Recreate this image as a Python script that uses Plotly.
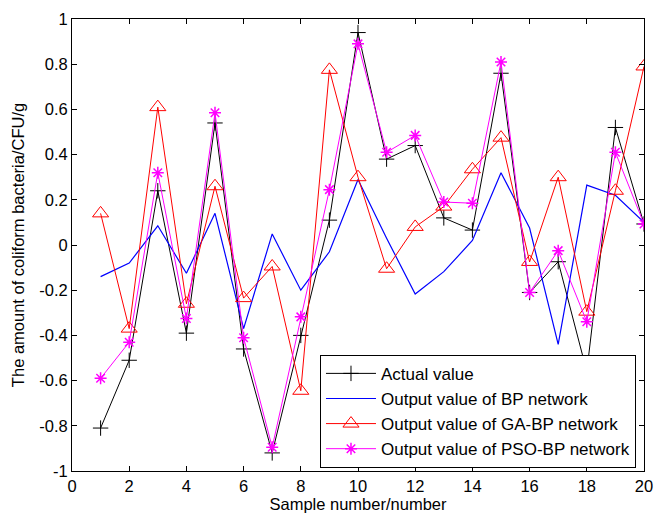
import plotly.graph_objects as go

samples = list(range(1, 21))
actual = [-0.81, -0.51, 0.24, -0.39, 0.54, -0.46, -0.92, -0.40, 0.11, 0.94,
          0.38, 0.44, 0.12, 0.066, 0.76, -0.21, -0.074, -0.56, 0.52, 0.093]
bp = [-0.14, -0.08, 0.085, -0.125, 0.14, -0.37, 0.049, -0.20, -0.03, 0.29,
      0.03, -0.217, -0.118, 0.02, 0.32, 0.075, -0.44, 0.265, 0.22, 0.10]
ga_bp = [0.14, -0.37, 0.61, -0.26, 0.26, -0.235, -0.095, -0.645, 0.775, 0.30,
         -0.105, 0.08, 0.17, 0.335, 0.475, -0.075, 0.30, -0.295, 0.24, 0.79]
pso_bp = [-0.59, -0.43, 0.32, -0.325, 0.585, -0.41, -0.895, -0.318, 0.245, 0.89,
          0.41, 0.485, 0.19, 0.185, 0.81, -0.21, -0.025, -0.34, 0.41, 0.093]

names = ["Actual value", "Output value of BP network",
         "Output value of GA-BP network", "Output value of PSO-BP network"]

font = "Liberation Sans, Arial, sans-serif"

fig = go.Figure()
fig.add_trace(go.Scatter(x=samples, y=actual, name=names[0], mode="lines+markers",
                         line=dict(color="black", width=1),
                         marker=dict(symbol="cross-thin-open", size=11,
                                     line=dict(color="black", width=1))))
fig.add_trace(go.Scatter(x=samples, y=bp, name=names[1], mode="lines",
                         line=dict(color="#0000ff", width=1.2)))
fig.add_trace(go.Scatter(x=samples, y=ga_bp, name=names[2], mode="lines+markers",
                         line=dict(color="#ff0000", width=1),
                         marker=dict(symbol="triangle-up-open", size=14, color="#ff0000",
                                     line=dict(color="#ff0000", width=1))))
fig.add_trace(go.Scatter(x=samples, y=pso_bp, name=names[3], mode="lines+markers",
                         line=dict(color="#ff00ff", width=1),
                         marker=dict(symbol="asterisk-open", size=10, color="#ff00ff",
                                     line=dict(color="#ff00ff", width=1.5))))

axis_common = dict(showline=True, linecolor="black", linewidth=1, mirror="ticks",
                   ticks="inside", ticklen=5, tickcolor="black", showgrid=False,
                   zeroline=False, automargin=False,
                   tickfont=dict(family=font, size=16.5, color="black"))

fig.update_layout(
    template="none",
    width=654, height=515,
    margin=dict(l=72, r=10, t=19, b=44),
    plot_bgcolor="white", paper_bgcolor="white",
    font=dict(family=font, size=16.5, color="black"),
    xaxis=dict(range=[0, 20], tickvals=list(range(0, 21, 2)),
               title=dict(text="Sample number/number", standoff=0,
                          font=dict(family=font, size=16.5)),
               **axis_common),
    yaxis=dict(range=[-1, 1], tickvals=[-1, -0.8, -0.6, -0.4, -0.2, 0, 0.2, 0.4, 0.6, 0.8, 1],
               ticktext=["-1", "-0.8", "-0.6", "-0.4", "-0.2", "0", "0.2", "0.4", "0.6", "0.8", "1"],
               title=dict(text="The amount of coliform bacteria/CFU/g", standoff=10,
                          font=dict(family=font, size=16.5)),
               **axis_common),
    legend=dict(x=0.986, y=0.007, xanchor="right", yanchor="bottom",
                bordercolor="black", borderwidth=1, bgcolor="white",
                font=dict(family=font, size=17), itemwidth=50,
                tracegroupgap=0),
    showlegend=True,
)

fig.write_html("out.html", config={"displayModeBar": False},
               post_script="document.body.style.margin='0px';document.body.style.overflow='hidden';")
